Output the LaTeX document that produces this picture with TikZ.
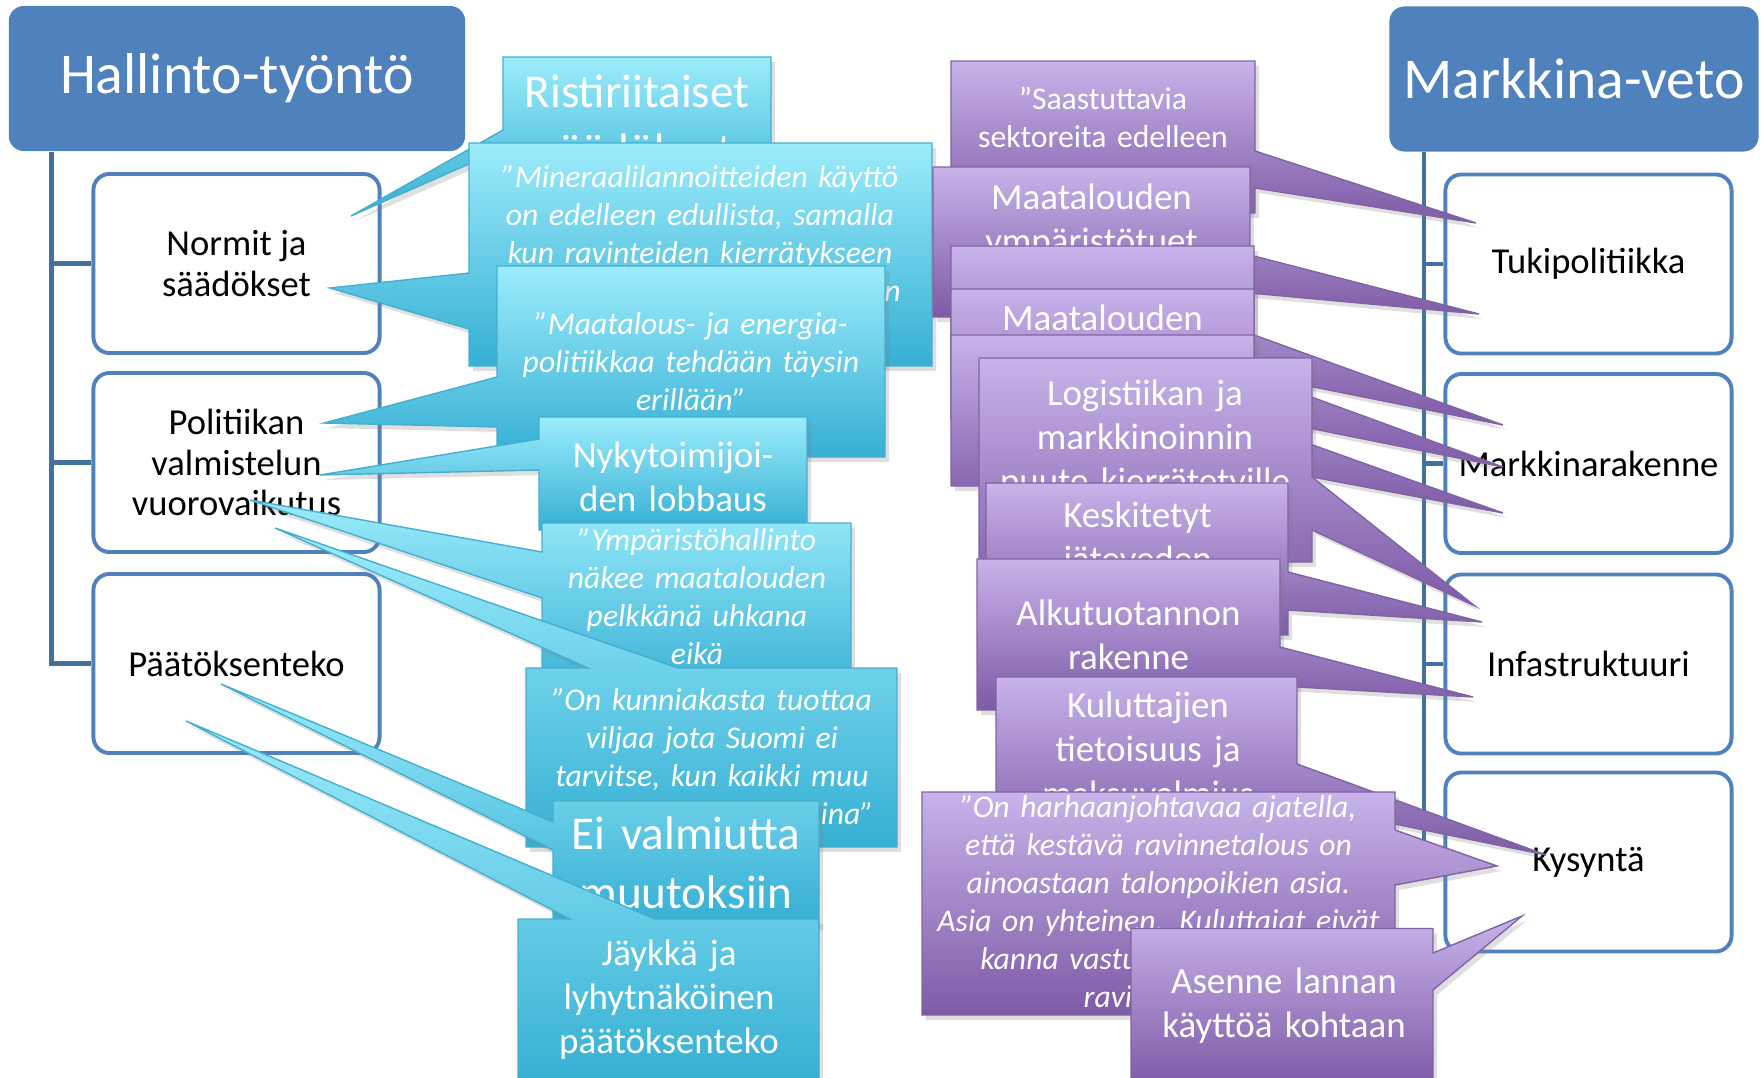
\documentclass[tikz,border=0pt]{standalone}
\usepackage{fontspec}
\setmainfont{Carlito}
\usetikzlibrary{shadows}
\definecolor{hblue}{HTML}{4F81BD}
\definecolor{spinec}{HTML}{41719C}
\definecolor{cyantop}{HTML}{9CECFB}
\definecolor{cyanbot}{HTML}{35AFD4}
\definecolor{cyanline}{HTML}{46AFCF}
\definecolor{lilatop}{HTML}{C8B3EA}
\definecolor{lilabot}{HTML}{7D5AA6}
\definecolor{lilaline}{HTML}{8064A2}

\begin{document}
\begin{tikzpicture}[x=0.01cm, y=-0.01cm,
    header/.style={fill=hblue, rounded corners=0.15cm, text=white, minimum height=1.45cm, font=\fontsize{16.4}{19}\selectfont},
    topic/.style={draw=hblue, line width=1.1pt, fill=white, rounded corners=0.16cm, minimum width=2.86cm, minimum height=1.79cm, align=center, font=\fontsize{10.4}{11.6}\selectfont},
    spine/.style={draw=spinec, line width=1.3pt},
    bluecall/.style={top color=cyantop, bottom color=cyanbot, draw=cyanline, line width=0.4pt, drop shadow={opacity=0.25, shadow xshift=0.04cm, shadow yshift=-0.05cm}},
    lilacall/.style={top color=lilatop, bottom color=lilabot, draw=lilaline, line width=0.4pt, drop shadow={opacity=0.25, shadow xshift=0.04cm, shadow yshift=-0.05cm}},
    calltext/.style={anchor=base, text=white, align=center, text width=5cm, font=\fontsize{10.5}{12.6}\selectfont},
    bigtext/.style={calltext, font=\fontsize{13.4}{16.8}\selectfont},
    quotetext/.style={calltext, font=\fontsize{9}{10.85}\selectfont\itshape},
    smalltext/.style={calltext, font=\fontsize{9}{10.85}\selectfont}]
    \useasboundingbox (0,0) rectangle (1762,1078);

    % Headers
    \node[header, minimum width=4.56cm] (hallinto) at (237,78.5) {Hallinto-työntö};
    \node[header, minimum width=3.69cm] (markkina) at (1574,79) {Markkina-veto};

    % Left boxes
    \node[topic] (normit) at (236.5,263.5) {Normit ja\\säädökset};
    \node[topic] (politiikka) at (236.5,462.5) {Politiikan\\valmistelun\\vuorovaikutus};
    \node[topic] (paatos) at (236.5,663.5) {Päätöksenteko};

    % Right boxes
    \node[topic] (tuki) at (1588.5,264) {Tukipolitiikka};
    \node[topic] (rakenne) at (1588.5,463.5) {Markkinarakenne};
    \node[topic] (infra) at (1588.5,664) {Infastruktuuri};
    \node[topic] (kysynta) at (1588.5,862) {Kysyntä};

    % Spines
    \coordinate (spineL) at (51.5,152);
    \coordinate (spineR) at (1424,152);
    \draw[spine] (spineL) |- (paatos.west);
    \draw[spine] (normit.west) -- (normit.west -| spineL);
    \draw[spine] (politiikka.west) -- (politiikka.west -| spineL);
    \draw[spine] (spineR) |- (kysynta.west);
    \draw[spine] (tuki.west) -- (tuki.west -| spineR);
    \draw[spine] (rakenne.west) -- (rakenne.west -| spineR);
    \draw[spine] (infra.west) -- (infra.west -| spineR);

    % Blue callouts
    \path[bluecall] (503,57) -- (771,57) -- (771,170) -- (503,170) -- (503,149) -- (351,216) -- (503,130) -- cycle;
    \node[bigtext] (rist) at (637,107) {Ristiriitaiset\\säädökset};

    \path[bluecall] (469,143) -- (932,143) -- (932,366) -- (469,366) -- (469,329) -- (330,288) -- (469,273) -- cycle;
    \node[quotetext] (mineraali) at (700,187.5) {”Mineraalilannoitteiden käyttö\\on edelleen edullista, samalla\\kun ravinteiden kierrätykseen\\\hspace*{3.85cm}n};

    \path[bluecall] (497,266) -- (885,266) -- (885,457) -- (497,457) -- (497,427) -- (324,423) -- (497,377) -- cycle;
    \node[quotetext] (energia) at (691,334) {”Maatalous- ja energia-\\politiikkaa tehdään täysin\\erillään”};

    \path[bluecall] (539,417) -- (807,417) -- (807,530) -- (539,530) -- (539,470) -- (320,475) -- (539,439) -- cycle;
    \node[calltext] (lobbaus) at (673,467) {Nykytoimijoi-\\den lobbaus};

    \path[bluecall] (542,523) -- (851,523) -- (851,700) -- (542,700) -- (542,598) -- (250,500) -- (542,552) -- cycle;
    \node[quotetext] (ymparisto) at (697,550) {”Ympäristöhallinto\\näkee maatalouden\\pelkkänä uhkana\\eikä};

    \path[bluecall] (526,668) -- (588,668) -- (275,528) -- (678,668) -- (897,668) -- (897,847) -- (526,847) -- cycle;
    \node[quotetext] (kunnia) at (712,710) {”On kunniakasta tuottaa\\viljaa jota Suomi ei\\tarvitse, kun kaikki muu\\\hspace*{2.7cm}ina”};

    \path[bluecall] (553,801) -- (819,801) -- (819,925) -- (553,925) -- (553,850) -- (221,684) -- (553,822) -- cycle;
    \node[bigtext] (valmius) at (686,849) {Ei valmiutta\\muutoksiin};

    \path[bluecall] (518,919) -- (570,919) -- (186,721) -- (655,919) -- (819,919) -- (819,1085) -- (518,1085) -- cycle;
    \node[calltext] (jaykka) at (669,965) {Jäykkä ja\\lyhytnäköinen\\päätöksenteko};

    % Purple callouts
    \path[lilacall] (951,61) -- (1255,61) -- (1255,151) -- (1476,223) -- (1255,188) -- (1255,213) -- (951,213) -- cycle;
    \node[smalltext] (saaste) at (1103,109) {”Saastuttavia\\sektoreita edelleen};

    \path[lilacall] (933,167) -- (1250,167) -- (1250,255) -- (1479,314) -- (1250,293) -- (1250,317) -- (933,317) -- cycle;
    \node[calltext] (ymptuet) at (1091.5,209) {Maatalouden\\ympäristötuet};

    \path[lilacall] (951,246) -- (1254,246) -- (1254,335) -- (1503,425) -- (1254,375) -- (1254,380) -- (951,380) -- cycle;

    \path[lilacall] (951,289) -- (1254,289) -- (1254,376) -- (1503,467) -- (1254,417) -- (1254,420) -- (951,420) -- cycle;
    \node[calltext] (maatal) at (1102.5,330) {Maatalouden};

    \path[lilacall] (951,335) -- (1254,335) -- (1254,424) -- (1503,513) -- (1254,466) -- (1254,486) -- (951,486) -- cycle;

    \path[lilacall] (979,358) -- (1312,358) -- (1312,477) -- (1475,606) -- (1312,530) -- (1312,562) -- (979,562) -- cycle;
    \node[calltext] (logistiikka) at (1145,405) {Logistiikan ja\\markkinoinnin\\puute kierrätetyille};

    \path[lilacall] (986,483) -- (1288,483) -- (1288,572) -- (1482,622) -- (1288,610) -- (1288,635) -- (986,635) -- cycle;
    \node[calltext] (keskitetyt) at (1137.5,527) {Keskitetyt\\jäteveden};

    \path[lilacall] (977,559) -- (1280,559) -- (1280,647) -- (1473,697) -- (1280,686) -- (1280,710) -- (977,710) -- cycle;
    \node[calltext] (alkutuotanto) at (1128.5,625) {Alkutuotannon\\rakenne};

    \path[lilacall] (996,677) -- (1297,677) -- (1297,764) -- (1546,855) -- (1297,804) -- (1297,810) -- (996,810) -- cycle;
    \node[calltext] (kuluttajat) at (1148,717.5) {Kuluttajien\\tietoisuus ja\\maksuvalmius};

    \path[lilacall] (922,792) -- (1395,792) -- (1395,830) -- (1497,866) -- (1395,885) -- (1395,1015) -- (922,1015) -- cycle;
    \node[quotetext] (harhaan) at (1158.5,817) {”On harhaanjohtavaa ajatella,\\että kestävä ravinnetalous on\\ainoastaan talonpoikien asia.\\Asia on yhteinen. Kuluttajat eivät\\kanna vastu\hspace*{1.98cm}\null\\ravi\hspace*{1.01cm}\null};

    \path[lilacall] (1131,928.5) -- (1433,928.5) -- (1433,953) -- (1522,916) -- (1433,990) -- (1433,1085) -- (1131,1085) -- cycle;
    \node[calltext] (asenne) at (1284,993) {Asenne lannan\\käyttöä kohtaan};
\end{tikzpicture}
\end{document}
